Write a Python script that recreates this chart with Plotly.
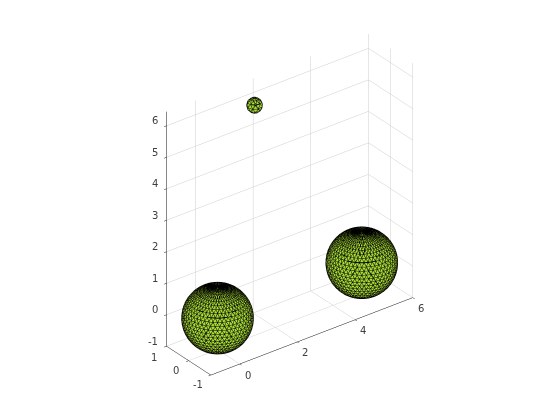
import numpy as np
import plotly.graph_objects as go

centers_x = [0.0, 5.0, 1.4]
centers_y = [0.0, 0.0, 0.15]
centers_z = [0.0, 0.0, 6.2]
radii = [0.985, 0.985, 0.22]
mesh_lat = [27, 27, 6]
mesh_lon = [48, 48, 9]
x_ticks = [0, 2, 4, 6]
y_ticks = [-1, 0, 1]
z_ticks = [-1, 0, 1, 2, 3, 4, 5, 6]
x_range = [-1, 6]
y_range = [-1, 1]
z_range = [-1, 6.45]

FACE = "#A8DC38"
EDGE = "#000000"
TICK = "#404040"
GRID = "#cdcdcd"
AXIS = "#111111"


def sphere(cx, cy, cz, r, nlat, nlon):
    th = np.linspace(0, np.pi, nlat + 1)
    step = 2 * np.pi / nlon
    pts = []
    for i, t in enumerate(th):
        for j in range(nlon):
            p = (j + 0.5 * (i % 2)) * step
            pts.append((cx + r * np.sin(t) * np.cos(p), cy + r * np.sin(t) * np.sin(p), cz + r * np.cos(t)))
    pts = np.array(pts)
    tris = []
    for i in range(nlat):
        for j in range(nlon):
            a = i * nlon + j
            b = i * nlon + (j + 1) % nlon
            c = (i + 1) * nlon + j
            d = (i + 1) * nlon + (j + 1) % nlon
            if i % 2 == 0:
                tris += [(a, b, c), (b, d, c)]
            else:
                tris += [(a, c, d), (a, b, d)]
    return pts, np.array(tris)


fig = go.Figure()
for cx, cy, cz, r, nlat, nlon in zip(centers_x, centers_y, centers_z, radii, mesh_lat, mesh_lon):
    pts, tris = sphere(cx, cy, cz, r, nlat, nlon)
    fig.add_trace(go.Mesh3d(
        x=pts[:, 0], y=pts[:, 1], z=pts[:, 2],
        i=tris[:, 0], j=tris[:, 1], k=tris[:, 2],
        color=FACE, flatshading=True, hoverinfo="skip", showscale=False,
        lighting=dict(ambient=1, diffuse=0, specular=0, roughness=1, fresnel=0),
    ))
    lx, ly, lz = [], [], []
    for t in tris:
        for a, b in ((t[0], t[1]), (t[1], t[2]), (t[2], t[0])):
            lx += [pts[a, 0], pts[b, 0], None]
            ly += [pts[a, 1], pts[b, 1], None]
            lz += [pts[a, 2], pts[b, 2], None]
    fig.add_trace(go.Scatter3d(x=lx, y=ly, z=lz, mode="lines", line=dict(color=EDGE, width=2),
                               hoverinfo="skip", showlegend=False))


def axis(rng, ticks):
    return dict(range=rng, tickvals=ticks, title=dict(text=""), showticklabels=False,
                showgrid=True, gridcolor=GRID, gridwidth=1, zeroline=False,
                showline=True, linecolor=AXIS, linewidth=1, ticks="outside", ticklen=3,
                tickcolor=AXIS, showbackground=False, showspikes=False, autorange=False)


def label(x, y, z, text, xs, ys):
    return dict(x=x, y=y, z=z, text=str(text), showarrow=False, xshift=xs, yshift=ys,
                font=dict(family="DejaVu Sans", size=10, color=TICK))


labels = ([label(t, y_range[0], z_range[0], t, 8, -11) for t in x_ticks]
          + [label(x_range[0], t, z_range[0], t, -13, -10 - t) for t in y_ticks]
          + [label(x_range[0], y_range[1], t, t, -12 - (2 if t < 0 else 0), 5) for t in z_ticks])

az, el = np.radians(-37.5), np.radians(30)
d = 1.22
k = 1.29
cz = -0.07
cen = dict(x=-0.01, y=0, z=cz)
eye = dict(x=cen["x"] + d * np.cos(el) * np.sin(az), y=-d * np.cos(el) * np.cos(az), z=cz + d * np.sin(el))
fig.update_layout(
    width=560, height=420, autosize=False, showlegend=False,
    margin=dict(l=0, r=0, t=0, b=0), paper_bgcolor="white",
    scene=dict(
        domain=dict(x=[0.0, 1], y=[0.0, 1]),
        xaxis=axis(x_range, x_ticks), yaxis=axis(y_range, y_ticks), zaxis=axis(z_range, z_ticks),
        aspectmode="manual", aspectratio=dict(x=k * 7 / 7.45, y=k * 2 / 7.45, z=k),
        camera=dict(eye=eye, up=dict(x=0, y=0, z=1), center=cen,
                    projection=dict(type="orthographic")),
        annotations=labels,
    ),
)
fig.write_html("out.html")
